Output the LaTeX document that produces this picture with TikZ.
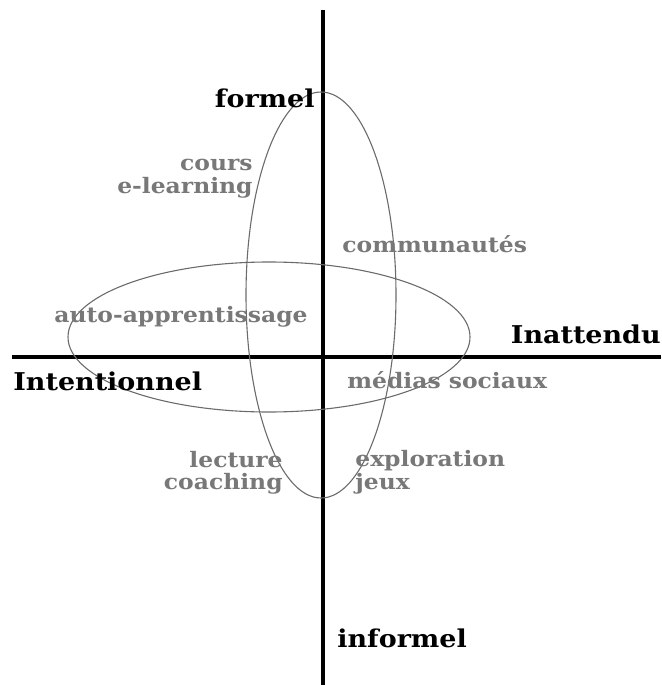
\documentclass[tikz,border=0pt]{standalone}
\usepackage{fontspec}
\setmainfont{DejaVu Serif}[FakeStretch=1.1]
\usetikzlibrary{positioning}
\tikzset{every picture/.style={line width=0.75pt}}
\definecolor{grislabel}{gray}{0.47}
\definecolor{grisboucle}{gray}{0.42}
\tikzset{
  axe/.style={line width=3.6pt},
  boucle/.style={draw=grisboucle,line width=1.1pt},
  pole/.style={font=\bfseries\fontsize{24.5}{26}\selectfont,inner sep=0pt},
  usage/.style={text=grislabel,font=\bfseries\fontsize{21.3}{23}\selectfont,inner sep=0pt},
}

\begin{document}
\begin{tikzpicture}[x=1pt,y=-1pt]
    \useasboundingbox (0,0) rectangle (661,685);
    % axes
    \coordinate (haut) at (323,10);
    \coordinate (bas) at (323,685);
    \coordinate (gauche) at (12,357);
    \coordinate (droite) at (661,357);
    \draw[axe] (haut) -- (bas);
    \draw[axe] (gauche) -- (droite);
    % les deux boucles
    \draw[boucle] (321,295) ellipse (75 and 203);
    \draw[boucle] (269,337) ellipse (201 and 75);
    % poles
    \node[pole,anchor=base east] (formel) at (315,107) {formel};
    \node[pole,anchor=base west] (informel) at (337,647) {informel};
    \node[pole,anchor=base west] (intentionnel) at (13,390) {Intentionnel};
    \node[pole,anchor=base east] (inattendu) at (661,343) {Inattendu};
    % usages
    \node[usage,anchor=base east] (cours) at (253,170) {cours};
    \node[usage,below=23pt of cours.base east,anchor=base east] (elearning) {e-learning};
    \node[usage,anchor=base west] (communautes) at (342,252) {communautés};
    \node[usage,anchor=base west] (autoapp) at (54,322) {auto-apprentissage};
    \node[usage,anchor=base west] (medias) at (347,388) {médias sociaux};
    \node[usage,anchor=base east] (lecture) at (283,467) {lecture};
    \node[usage,below=22pt of lecture.base east,anchor=base east] (coaching) {coaching};
    \node[usage,anchor=base west] (exploration) at (355,466) {exploration};
    \node[usage,below=23pt of exploration.base west,anchor=base west] (jeux) {jeux};
\end{tikzpicture}
\end{document}
